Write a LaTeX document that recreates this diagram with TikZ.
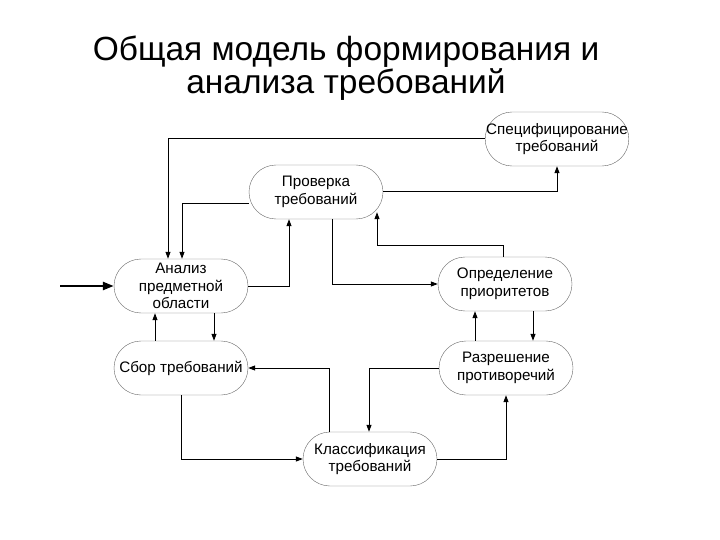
\documentclass[tikz,border=0pt]{standalone}
\usepackage{fontspec}
\setmainfont{Liberation Sans}
\usetikzlibrary{arrows.meta}

\tikzset{
    stage/.style={draw=black!60, thin, rounded corners=27pt,
        minimum width=134pt, minimum height=54pt, inner sep=1pt,
        align=center, font=\fontsize{15.2}{17.5}\selectfont},
    link/.style={-{Triangle[length=7pt,width=5pt]}, line width=1pt}
}

\begin{document}
\begin{tikzpicture}[x=1pt,y=-1pt]
    \useasboundingbox (0,0) rectangle (720,540);

    \node[align=center, font=\fontsize{33.5}{33}\selectfont] (title) at (346,68)
        {Общая модель формирования и\\анализа требований};

    \node[stage] (spec) at (557,139) {Специфицирование\\требований};
    \node[stage] (prov) at (316,192) {Проверка\\требований};
    \node[stage] (analiz) at (181,286) {Анализ\\предметной\\области};
    \node[stage] (opred) at (505,284) {Определение\\приоритетов};
    \node[stage] (sbor) at (181,368) {Сбор требований};
    \node[stage] (razr) at (506,368) {Разрешение\\противоречий};
    \node[stage] (klass) at (370,459) {Классификация\\требований};
    \coordinate (entry) at (60,286);

    \draw[link] (spec.west) -| ([xshift=-13pt]analiz.north);
    \draw[link] ([yshift=-12pt]prov.west) -| ([xshift=1pt]analiz.north);
    \draw[link] (analiz.east) -| ([xshift=-27pt]prov.south);
    \draw[link] (prov.east) -| (spec.south);
    \draw[link] ([xshift=16pt]prov.south) |- (opred.west);
    \draw[link] ([xshift=-2pt]opred.north) -- ++(0,-11)
        -| ([xshift=61pt,yshift=7pt]prov.south);
    \draw[link] ([xshift=-26pt]sbor.north) -- ([xshift=-26pt]analiz.south);
    \draw[link] ([xshift=33pt]analiz.south) -- ([xshift=33pt]sbor.north);
    \draw[link] ([xshift=-41pt]klass.north) |- (sbor.east);
    \draw[link] (razr.west) -| ([xshift=-1pt]klass.north);
    \draw[link] (sbor.south) |- (klass.west);
    \draw[link] (klass.east) -| (razr.south);
    \draw[link] ([xshift=-31pt]razr.north) -- ([xshift=-30pt]opred.south);
    \draw[link] ([xshift=28pt]opred.south) -- ([xshift=27pt]razr.north);
    \draw[-{Triangle[length=11pt,width=8pt]}, line width=2.5pt] (entry) -- (analiz.west);
\end{tikzpicture}
\end{document}
